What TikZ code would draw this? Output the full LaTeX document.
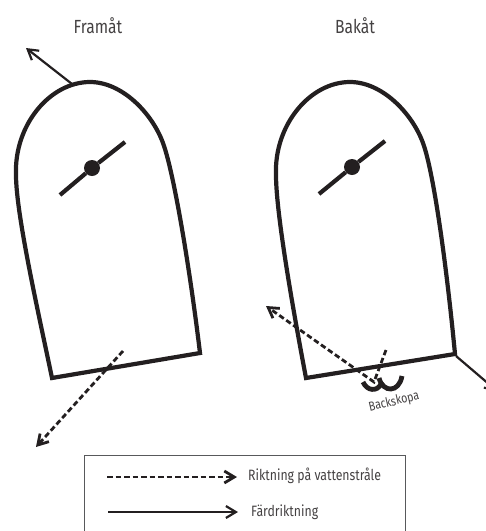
\documentclass[tikz,border=0pt]{standalone}
\usepackage{fontspec}
\setmainfont[FakeStretch=0.82]{Fira Sans}
\usepackage{xcolor}
\usetikzlibrary{arrows.meta,positioning}
\definecolor{hullink}{HTML}{231F20}
\definecolor{legline}{HTML}{58595B}
\tikzset{
  hull/.style  ={line width=4.2pt,draw=hullink,line join=miter},
  shaft/.style ={line width=4.2pt,draw=hullink},
  motion/.style={-{Straight Barb[length=3.5mm,width=4.2mm]},line width=2.2pt,draw=hullink},
  jet/.style   ={-{Straight Barb[length=3.5mm,width=4.2mm]},line width=2.8pt,draw=hullink,dash pattern=on 5.5pt off 3pt},
  label/.style ={font=\fontsize{15}{17}\selectfont,text=hullink!85}
}
\begin{document}
\begin{tikzpicture}[x=1pt,y=-1pt]
    \useasboundingbox (0,0) rectangle (486,531);
    % titles
    \node[label,font=\fontsize{19}{21}\selectfont] (fram) at (98,26) {Framåt};
    \node[label,font=\fontsize{19}{21}\selectfont] (bak) at (355,26) {Bakåt};
    % forward hull
    \draw[hull] (52,378) -- (200,353) .. controls (190,270) and (174,173) .. (163,143)
       .. controls (152,113) and (122,82) .. (90,82)
       .. controls (50,82) and (14,125) .. (16,175) .. controls (16,215) and (40,320) .. cycle;
    \node[circle,fill=hullink,inner sep=0pt,minimum size=16pt] (hubf) at (92,168) {};
    \coordinate (fa) at (60,195);
    \coordinate (fb) at (125,142);
    \draw[shaft] (fa) -- (hubf) -- (fb);
    \coordinate (bowf) at (72,84);
    \coordinate (headf) at (26,48);
    \draw[motion] (bowf) -- (headf);
    \coordinate (jetfa) at (123,351);
    \coordinate (jetfb) at (36,447);
    \draw[jet] (jetfa) -- (jetfb);
    % reverse hull
    \draw[hull] (306,378) -- (455,354) .. controls (447,270) and (434,173) .. (423,143)
       .. controls (412,113) and (382,82) .. (350,82)
       .. controls (310,82) and (274,125) .. (276,175) .. controls (276,215) and (295,320) .. cycle;
    \node[circle,fill=hullink,inner sep=0pt,minimum size=16pt] (hubb) at (352,167) {};
    \coordinate (ba) at (319,194);
    \coordinate (bb) at (385,141);
    \draw[shaft] (ba) -- (hubb) -- (bb);
    \coordinate (sterb) at (456,356);
    \coordinate (headb) at (497,391);
    \draw[motion] (sterb) -- (headb);
    % bucket
    \draw[shaft,line width=4.8pt] (363,382) .. controls (367,391) and (377,392) .. (381,384);
    \draw[shaft,line width=4.8pt] (379,378) .. controls (383,393) and (399,393) .. (402,376);
    \coordinate (jetba) at (386,350);
    \coordinate (jetbb) at (374,382);
    \coordinate (jetbc) at (266,306);
    \draw[jet] (jetba) -- (jetbb) -- (jetbc);
    \node[label,font=\fontsize{13}{15}\selectfont,rotate=13] (scoop) at (394,402) {Backskopa};
    % legend
    \node[draw=legline,line width=1.2pt,minimum width=321pt,minimum height=90pt,anchor=north west] (legend) at (84,455) {};
    \coordinate (la) at (107,477);
    \coordinate (lb) at (237,477);
    \coordinate (lc) at (108,512);
    \coordinate (ld) at (238,512);
    \draw[jet] (la) -- (lb);
    \draw[motion] (lc) -- (ld);
    \node[label,anchor=west,inner sep=0pt] (ljet) at (248,476) {Riktning på vattenstråle};
    \node[label,anchor=west,inner sep=0pt] (lmot) at (251,512) {Färdriktning};
\end{tikzpicture}
\end{document}
